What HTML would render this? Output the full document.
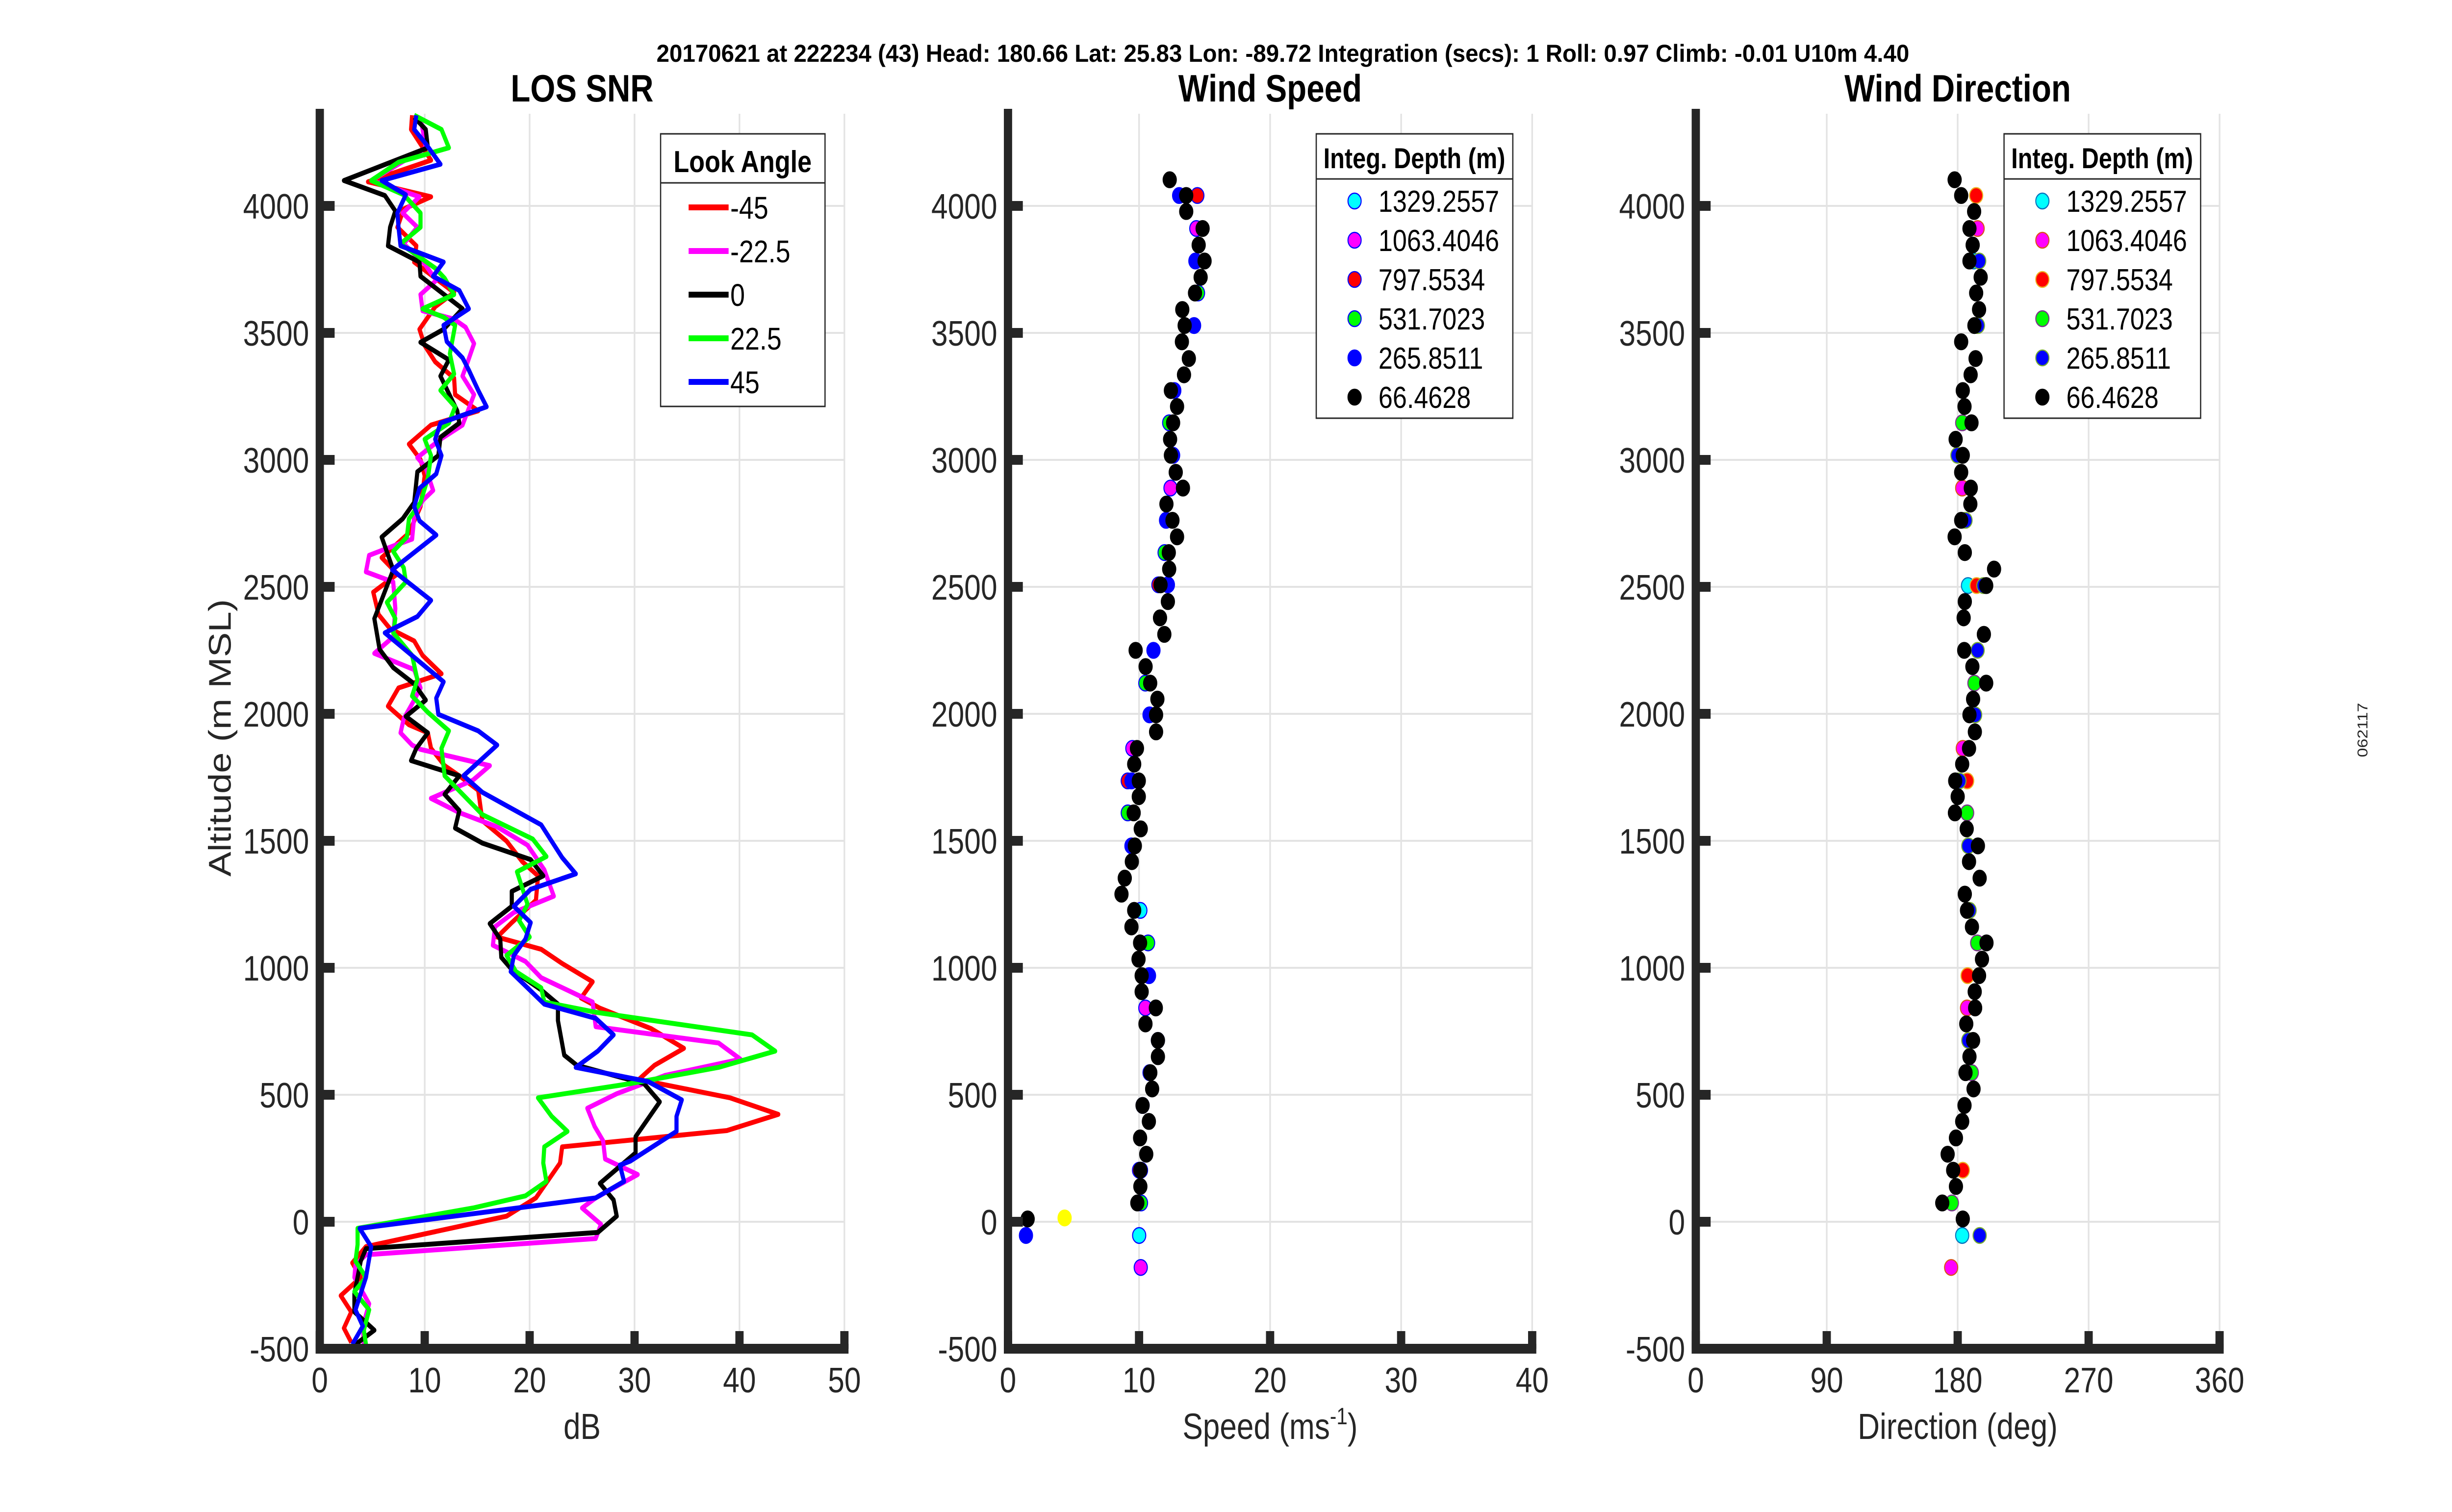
<!DOCTYPE html>
<html><head><meta charset="utf-8"><style>
html,body{margin:0;padding:0;background:#fff;width:100%;height:100%;overflow:hidden;}
svg{display:block;position:fixed;left:0;top:0;width:100vw;height:100vh;font-family:"Liberation Sans",Arial,sans-serif;}
</style></head><body>
<svg id="fig" xmlns="http://www.w3.org/2000/svg" viewBox="0 0 5950 3084" preserveAspectRatio="none">
<rect width="5950" height="3084" fill="#fff"/>
<text x="3113" y="126" font-size="50" font-weight="bold" text-anchor="middle" textLength="3040" lengthAdjust="spacingAndGlyphs">20170621 at 222234 (43)  Head: 180.66  Lat: 25.83  Lon: -89.72  Integration (secs): 1  Roll: 0.97  Climb: -0.01  U10m 4.40</text>
<text x="5745" y="1489" font-size="34" fill="#262626" text-anchor="middle" transform="rotate(-90 5745 1489)">062117</text>
</svg>
<script>
// ---------- DATA ----------
const altTicks = [-500,0,500,1000,1500,2000,2500,3000,3500,4000];
const snrTicks = [0,10,20,30,40,50];
const speedTicks = [0,10,20,30,40];
const dirTicks = [0,90,180,270,360];
const lookAngles = ['-45','-22.5','0','22.5','45'];
const depthLabels = ['1329.2557','1063.4046','797.5534','531.7023','265.8511','66.4628'];

// SNR profiles: [altitude m, dB]
const snrM45 = [[4357,8.8],[4301,8.7],[4180,10.6],[4095,4.6],[4036,10.6],[3988,8.0],[3916,7.4],[3843,9.2],[3779,9.0],[3659,12.8],[3603,11.0],[3514,9.5],[3450,10.0],[3386,11.0],[3322,12.8],[3257,12.9],[3193,15.1],[3137,10.6],[3062,8.5],[3001,9.6],[2937,10.0],[2816,9.6],[2712,8.5],[2615,5.9],[2551,7.4],[2479,5.1],[2391,5.6],[2335,6.7],[2287,9.0],[2230,9.8],[2158,11.6],[2102,7.5],[2030,6.5],[1957,8.5],[1925,10.3],[1864,10.6],[1796,11.9],[1756,13.3],[1699,15.1],[1579,15.5],[1499,17.8],[1418,19.3],[1362,20.8],[1266,20.6],[1178,18.3],[1121,16.9],[1073,21.1],[1017,23.1],[945,26.0],[881,24.9],[841,26.7],[760,31.6],[683,34.7],[616,31.9],[560,30.4],[488,39.1],[423,43.7],[359,38.8],[295,23.1],[231,22.9],[94,20.6],[22,17.8],[-98,4.4],[-162,3.1],[-219,3.9],[-291,2.0],[-355,3.0],[-419,2.3],[-475,3.0]];
const snrM22 = [[4349,9.6],[4229,10.1],[4100,4.9],[4036,9.5],[3972,7.9],[3916,9.3],[3851,8.0],[3771,10.0],[3707,11.1],[3651,9.6],[3587,9.8],[3554,12.8],[3522,13.9],[3458,14.7],[3386,14.1],[3330,13.6],[3257,14.7],[3137,13.6],[3081,11.5],[3009,9.3],[2969,10.1],[2880,10.8],[2840,9.8],[2776,9.0],[2688,8.8],[2664,7.2],[2624,4.7],[2559,4.4],[2519,7.0],[2415,7.2],[2303,7.0],[2238,5.2],[2174,9.0],[2102,9.6],[2054,9.0],[1981,8.0],[1925,7.7],[1877,8.8],[1860,9.6],[1796,16.2],[1739,14.6],[1667,10.6],[1611,13.3],[1555,16.9],[1483,19.8],[1386,21.4],[1282,22.3],[1218,18.5],[1162,16.7],[1089,16.5],[1025,19.6],[961,21.1],[865,26.0],[768,26.3],[704,38.0],[640,40.1],[576,32.9],[504,28.3],[447,25.5],[375,26.2],[319,27.0],[247,27.2],[186,30.3],[94,26.3],[54,25.0],[-10,26.8],[-66,26.3],[-130,4.4],[-171,3.4],[-219,3.3],[-323,4.7],[-411,4.1],[-483,4.2]];
const snr0 = [[4349,9.0],[4301,10.1],[4229,10.3],[4100,2.3],[4041,6.2],[3980,7.2],[3916,6.7],[3843,6.5],[3779,9.5],[3723,9.6],[3595,13.6],[3514,11.8],[3463,9.6],[3394,12.3],[3330,11.5],[3193,13.1],[3145,13.3],[3089,11.5],[3017,11.3],[2953,9.3],[2832,9.0],[2768,7.9],[2696,5.9],[2567,7.0],[2375,5.2],[2254,5.7],[2182,7.0],[2118,9.0],[2054,10.1],[1990,8.2],[1925,10.3],[1864,9.2],[1816,8.7],[1756,13.3],[1683,11.9],[1619,13.3],[1550,12.9],[1491,15.5],[1426,20.1],[1362,21.3],[1301,18.3],[1242,18.3],[1174,16.2],[1113,17.2],[1041,17.3],[993,18.3],[913,21.1],[857,22.7],[792,22.7],[656,23.3],[616,24.5],[544,30.9],[472,32.4],[335,30.1],[271,30.1],[151,26.7],[86,28.0],[22,28.3],[-42,26.5],[-106,4.4],[-155,3.9],[-283,3.3],[-355,3.3],[-427,5.2],[-483,3.4]];
const snrP22 = [[4357,9.0],[4301,11.6],[4229,12.3],[4172,7.5],[4100,4.9],[4044,8.0],[3972,9.6],[3916,9.6],[3851,7.7],[3755,11.0],[3715,11.9],[3651,12.8],[3595,9.8],[3562,11.8],[3530,12.9],[3418,12.4],[3338,12.8],[3274,11.5],[3209,12.9],[3145,12.3],[3081,10.0],[3017,10.6],[2928,10.3],[2832,9.6],[2768,8.5],[2696,8.3],[2640,7.0],[2575,8.0],[2519,8.2],[2439,6.4],[2375,7.2],[2319,7.0],[2230,8.8],[2134,9.3],[2070,8.8],[2006,10.3],[1933,12.3],[1864,11.6],[1756,11.9],[1603,15.5],[1507,20.3],[1438,21.6],[1378,18.8],[1250,19.8],[1186,19.0],[1121,20.0],[1049,17.8],[985,18.7],[921,21.1],[865,21.4],[825,26.3],[736,41.2],[672,43.4],[608,38.0],[544,29.6],[488,20.8],[415,22.1],[356,23.6],[295,21.4],[231,21.3],[159,21.6],[102,19.6],[54,14.6],[-26,3.6],[-90,3.6],[-155,3.4],[-219,4.4],[-275,3.3],[-347,4.7],[-427,4.2],[-483,4.4]];
const snrP45 = [[4357,9.2],[4301,9.0],[4245,10.1],[4164,11.5],[4100,5.9],[4044,8.2],[3972,7.4],[3916,7.5],[3843,7.7],[3779,11.8],[3723,10.8],[3667,13.3],[3595,14.2],[3530,11.8],[3466,12.1],[3402,13.6],[3354,14.2],[3274,15.1],[3209,15.9],[3145,11.5],[3081,11.0],[3017,11.6],[2945,11.1],[2888,9.5],[2816,9.0],[2760,9.5],[2704,11.1],[2567,6.9],[2447,10.6],[2383,9.3],[2319,6.2],[2126,11.8],[2062,11.1],[1998,11.3],[1933,15.1],[1877,16.9],[1756,13.7],[1691,15.5],[1563,21.1],[1434,23.1],[1370,24.4],[1309,20.1],[1242,18.5],[1178,20.1],[1113,19.6],[1049,18.5],[985,18.2],[857,21.4],[801,26.3],[736,28.0],[672,26.5],[608,24.4],[552,31.3],[480,34.5],[415,34.0],[356,34.0],[239,29.6],[223,28.6],[159,29.0],[94,26.3],[-26,3.8],[-98,4.9],[-219,4.4],[-347,3.4],[-411,4.1],[-483,3.1]];

// Wind speed points: [altitude m, m/s]
const spd1329 = [[1226,10.1],[-54,10.01]];
const spd1063 = [[3911,14.37],[2889,12.4],[1864,9.49],[842,10.48],[-180,10.13]];
const spd797 = [[4041,14.45],[2508,11.48],[1736,9.14],[203,10.0]];
const spd531 = [[3657,14.5],[3146,12.3],[2635,11.95],[2121,10.48],[1610,9.14],[1098,10.69],[587,10.8],[74,10.15]];
const spd265 = [[4041,13.06],[3783,14.3],[3529,14.2],[3273,12.69],[3018,12.6],[2762,12.06],[2508,12.2],[2250,11.1],[1996,10.8],[1736,9.42],[1480,9.42],[969,10.76],[714,11.44],[458,10.27],[203,10.15],[-54,1.37]];
const spdExtra = [[15,4.32]];
const spd66 = [[4103,12.34],[4041,13.6],[3978,13.6],[3911,14.85],[3846,14.55],[3783,15.0],[3719,14.7],[3657,14.27],[3592,13.3],[3529,13.48],[3465,13.27],[3399,13.8],[3335,13.43],[3273,12.43],[3210,12.9],[3146,12.6],[3081,12.37],[3018,12.43],[2951,12.8],[2889,13.35],[2826,12.09],[2762,12.55],[2697,12.9],[2635,12.27],[2570,12.3],[2508,11.64],[2442,12.2],[2378,11.6],[2313,11.93],[2250,9.74],[2186,10.5],[2121,10.85],[2058,11.4],[1996,11.3],[1929,11.3],[1864,9.84],[1802,9.63],[1736,9.98],[1674,9.98],[1610,9.59],[1547,10.13],[1480,9.68],[1418,9.45],[1353,8.91],[1290,8.66],[1226,9.63],[1161,9.42],[1098,10.08],[1034,9.96],[969,10.2],[906,10.2],[842,11.28],[779,10.49],[714,11.44],[650,11.44],[587,10.86],[523,11.0],[458,10.27],[395,10.75],[330,10.08],[266,10.55],[203,10.1],[139,10.1],[74,9.87],[11,1.5]];

// Wind direction points: [altitude m, deg]
const dir1329 = [[3783,191.0],[2505,187.1],[-54,183.1]];
const dir1063 = [[3911,193.7],[2889,183.1],[1864,183.5],[842,186.4],[-180,175.5]];
const dir797 = [[4041,192.7],[2505,193.0],[1736,186.5],[969,186.8],[203,183.5]];
const dir531 = [[3146,183.1],[2121,191.5],[1610,186.5],[1098,193.4],[587,189.7],[74,176.0]];
const dir265 = [[3783,194.8],[3529,193.9],[3018,179.8],[2762,185.4],[2505,197.7],[2250,193.7],[1996,192.0],[1736,181.2],[1480,187.3],[1226,188.2],[714,187.3],[-54,195.1]];
const dir66 = [[4103,177.9],[4041,182.4],[3978,191.3],[3911,188.1],[3846,190.3],[3783,188.1],[3719,195.8],[3657,192.7],[3592,194.7],[3529,191.5],[3465,182.4],[3399,192.3],[3335,188.9],[3273,183.5],[3210,184.7],[3146,189.5],[3081,178.6],[3018,183.5],[2951,182.4],[2889,189.0],[2826,188.7],[2762,182.4],[2697,177.9],[2635,184.9],[2570,205.0],[2505,199.6],[2442,184.9],[2378,184.1],[2313,198.0],[2250,184.5],[2186,190.1],[2121,199.6],[2058,190.6],[1996,188.1],[1929,191.8],[1864,187.8],[1802,183.1],[1736,178.3],[1674,180.0],[1610,178.1],[1547,186.2],[1480,193.9],[1418,187.8],[1353,195.1],[1290,184.9],[1226,186.4],[1161,189.8],[1098,199.8],[1034,196.7],[969,194.7],[906,191.7],[842,192.0],[779,185.9],[714,190.6],[650,188.1],[587,185.4],[523,190.9],[458,184.7],[395,183.1],[330,178.8],[266,173.1],[203,176.9],[139,178.8],[74,169.4],[11,183.5]];

// ---------- DRAW ----------
const NS='http://www.w3.org/2000/svg';
const svg=document.getElementById('fig');
function mk(tag,attrs,parent){const e=document.createElementNS(NS,tag);for(const k in attrs)e.setAttribute(k,attrs[k]);(parent||svg).appendChild(e);return e;}
const Y0=2492, YS=0.518, ALT_MIN=-500;
function yScale(a){return Y0-a*YS;}
const AX='#262626';

function makeAxes(name,x0,x1,vmax,ticks,title,xlabel){
  const g=mk('g',{});
  
  
  const xs=v=>x0+(x1-x0)*v/vmax;
  const yB=yScale(ALT_MIN);
  ticks.forEach(t=>{const l=mk('line',{x1:xs(t),x2:xs(t),y1:232,y2:yB,stroke:'#e3e3e3','stroke-width':4},g);
    
    });
  altTicks.forEach(a=>{const l=mk('line',{x1:x0,x2:x1,y1:yScale(a),y2:yScale(a),stroke:'#e3e3e3','stroke-width':4},g);
    
    });
  const plot=mk('g',{},g);
  
  
  const ax=mk('rect',{x:x0-10,y:222,width:20,height:yB-222+10,fill:AX},g);
  
  
  const bx=mk('rect',{x:x0-10,y:yB-10,width:x1-x0+20,height:20,fill:AX},g);
  
  
  altTicks.forEach(a=>{
    const tk=mk('rect',{x:x0,y:yScale(a)-10,width:36,height:20,fill:AX},g);
    
    
    const t=mk('text',{x:x0-26,y:yScale(a)+26,'font-size':72,fill:AX,'text-anchor':'end'},g);
    t.textContent=a;
    
    
  });
  ticks.forEach(v=>{
    const tk=mk('rect',{x:xs(v)-10,y:yB-36,width:20,height:36,fill:AX},g);
    
    
    const t=mk('text',{x:xs(v),y:2840,'font-size':72,fill:AX,'text-anchor':'middle'},g);
    t.textContent=v;
    
    
  });
  const tt=mk('text',{x:(x0+x1)/2,y:207,'font-size':78,'font-weight':'bold','text-anchor':'middle'},g);
  tt.textContent=title;
  
  
  const xl=mk('text',{x:(x0+x1)/2,y:2935,'font-size':74,fill:AX,'text-anchor':'middle'},g);
  
  
  if(xlabel==='speed'){
    xl.appendChild(document.createTextNode('Speed (ms'));
    const sp=mk('tspan',{'font-size':48,dy:-30},xl);sp.textContent='-1';
    const sp2=mk('tspan',{dy:30},xl);sp2.textContent=')';
  } else xl.textContent=xlabel;
  return {g,plot,xs};
}

const A1=makeAxes('snr-axes',776,2049,50,snrTicks,'LOS SNR','dB');
const yl=mk('text',{x:560,y:1505,'font-size':76,fill:AX,'text-anchor':'middle',transform:'rotate(-90 560 1505)'});
yl.textContent='Altitude (m MSL)';


const snrSeries=[[snrM45,'#ff0000'],[snrM22,'#ff00ff'],[snr0,'#000000'],[snrP22,'#00ff00'],[snrP45,'#0000ff']];
snrSeries.forEach((s,i)=>{
  const d=s[0].map((p,j)=>(j?'L':'M')+A1.xs(p[1]).toFixed(1)+' '+yScale(p[0]).toFixed(1)).join(' ');
  const pth=mk('path',{d:d,fill:'none',stroke:s[1],'stroke-width':10,'stroke-linejoin':'round'},A1.plot);
  
  
});
{
  const lg=mk('g',{});
  
  
  mk('rect',{x:1603,y:273,width:399,height:556,fill:'#fff',stroke:'#262626','stroke-width':3},lg);
  mk('line',{x1:1603,x2:2002,y1:373,y2:373,stroke:'#262626','stroke-width':3},lg);
  const h=mk('text',{x:1802,y:351,'font-size':62,'font-weight':'bold','text-anchor':'middle'},lg);
  h.textContent='Look Angle';
  
  
  snrSeries.forEach((s,i)=>{
    const y=423+i*89;
    const e=mk('g',{},lg);
    
    
    mk('line',{x1:1671,x2:1768,y1:y,y2:y,stroke:s[1],'stroke-width':12},e);
    const t=mk('text',{x:1772,y:y+23,'font-size':64},e);t.textContent=lookAngles[i];
  });
}

const spdSeries=[[spd1329,'#00ffff','#0000ff'],[spd1063,'#ff00ff','#0000ff'],[spd797,'#ff0000','#0000ff'],[spd531,'#00ff00','#0000ff'],[spd265,'#0000ff','#0000ff'],[spdExtra,'#ffff00','#ffff00'],[spd66,'#000000','#000000']];
const dirSeries=[[dir1329,'#00ffff','#0072bd'],[dir1063,'#ff00ff','#d95319'],[dir797,'#ff0000','#edb120'],[dir531,'#00ff00','#7e2f8e'],[dir265,'#0000ff','#77ac30'],[dir66,'#000000','#000000']];
const A2=makeAxes('speed-axes',2446,3718,40,speedTicks,'Wind Speed','speed');
const A3=makeAxes('direction-axes',4115,5386,360,dirTicks,'Wind Direction','Direction (deg)');
function dots(A,series,prefix){
  series.forEach(s=>{
    s[0].forEach(p=>{
      const c=mk('circle',{cx:A.xs(p[1]),cy:yScale(p[0]),r:16,fill:s[1],stroke:s[2],'stroke-width':2.5},A.plot);
      
      
    });
  });
}
dots(A2,spdSeries,'speed');
dots(A3,dirSeries,'direction');
function depthLegend(x,edges){
  const lg=mk('g',{});
  
  
  mk('rect',{x:x,y:273,width:477,height:580,fill:'#fff',stroke:'#262626','stroke-width':3},lg);
  mk('line',{x1:x,x2:x+477,y1:365,y2:365,stroke:'#262626','stroke-width':3},lg);
  const h=mk('text',{x:x+238,y:343,'font-size':58,'font-weight':'bold','text-anchor':'middle'},lg);
  h.textContent='Integ. Depth (m)';
  
  
  const fills=['#00ffff','#ff00ff','#ff0000','#00ff00','#0000ff','#000000'];
  depthLabels.forEach((l,i)=>{
    const y=410+i*80;
    const e=mk('g',{},lg);
    
    
    mk('circle',{cx:x+93,cy:y,r:16,fill:fills[i],stroke:edges[i],'stroke-width':2.5},e);
    const t=mk('text',{x:x+151,y:y+22,'font-size':62},e);t.textContent=l;
  });
}
depthLegend(3194,['#0000ff','#0000ff','#0000ff','#0000ff','#0000ff','#000000']);
depthLegend(4863,['#0072bd','#d95319','#edb120','#7e2f8e','#77ac30','#000000']);
</script>
</body></html>
